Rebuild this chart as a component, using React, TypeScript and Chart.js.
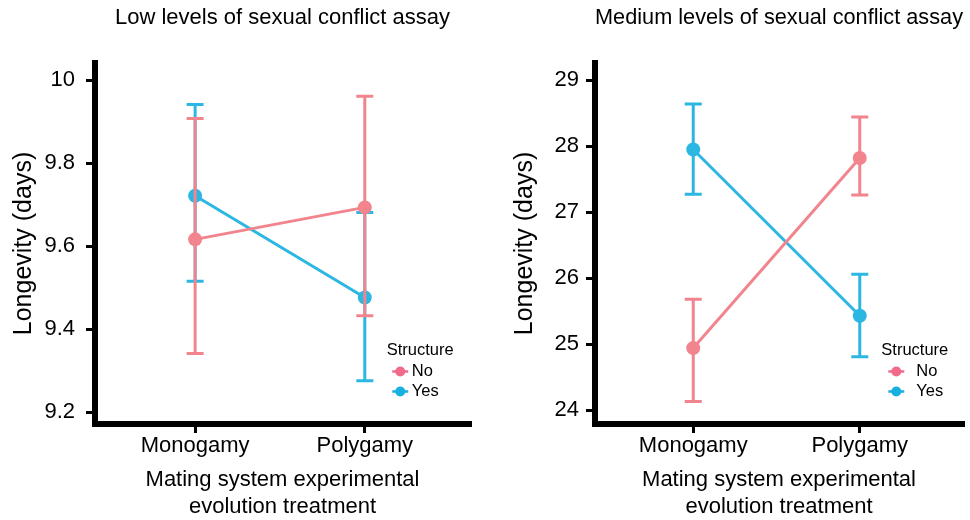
import React, { useEffect, useRef } from "react";
import { Chart, registerables } from "chart.js";

Chart.register(...registerables);

// ---------- data ----------
const categories = ["Monogamy", "Polygamy"];
const groups = ["No", "Yes"];

// Low levels of sexual conflict assay
const lowNoMean = [9.617, 9.694];
const lowNoLower = [9.342, 9.433];
const lowNoUpper = [9.908, 9.962];
const lowYesMean = [9.722, 9.477];
const lowYesLower = [9.516, 9.276];
const lowYesUpper = [9.942, 9.682];
const lowYTicks = [9.2, 9.4, 9.6, 9.8, 10];

// Medium levels of sexual conflict assay
const medNoMean = [24.94, 27.82];
const medNoLower = [24.13, 27.26];
const medNoUpper = [25.68, 28.44];
const medYesMean = [27.95, 25.43];
const medYesLower = [27.27, 24.81];
const medYesUpper = [28.64, 26.06];
const medYTicks = [24, 25, 26, 27, 28, 29];

const yTitle = "Longevity (days)";
const xTitle = ["Mating system experimental", "evolution treatment"];

// ---------- styles ----------
const FONT = "'Liberation Sans', Arial, Helvetica, sans-serif";
const lineColors = ["#F2848E", "#2CB7E2"];
const keyColors = ["#F06A8A", "#18B0DE"];

const errorBarPlugin = {
  id: "errorBars",
  beforeDatasetDraw(chart: any, args: any) {
    const ds = chart.data.datasets[args.index];
    const xs = chart.scales.x;
    const ys = chart.scales.y;
    const ctx = chart.ctx;
    ctx.save();
    ctx.strokeStyle = ds.borderColor;
    ctx.lineWidth = 3;
    ctx.lineCap = "butt";
    ds.data.forEach((pt: any, i: number) => {
      const px = xs.getPixelForValue(pt.x);
      const lo = ys.getPixelForValue(ds.errLow[i]);
      const hi = ys.getPixelForValue(ds.errHigh[i]);
      const cap = 8.5;
      ctx.beginPath();
      ctx.moveTo(px, lo);
      ctx.lineTo(px, hi);
      ctx.moveTo(px - cap, lo);
      ctx.lineTo(px + cap, lo);
      ctx.moveTo(px - cap, hi);
      ctx.lineTo(px + cap, hi);
      ctx.stroke();
    });
    ctx.restore();
  },
};

const legendPlugin = {
  id: "insideLegend",
  afterDraw(chart: any) {
    const o = chart.options.plugins.insideLegend;
    if (!o) return;
    const ca = chart.chartArea;
    const ctx = chart.ctx;
    const x0 = ca.left + o.fx * (ca.right - ca.left);
    const y0 = ca.top + o.fy * (ca.bottom - ca.top);
    ctx.save();
    ctx.fillStyle = "#000";
    ctx.font = `16.5px ${FONT}`;
    ctx.textBaseline = "middle";
    ctx.textAlign = "left";
    ctx.fillText("Structure", x0, y0);
    groups.forEach((g, i) => {
      const yy = y0 + 21.5 + i * 20;
      const cx = x0 + o.keyOffset;
      ctx.strokeStyle = keyColors[i];
      ctx.lineWidth = 2.5;
      ctx.beginPath();
      ctx.moveTo(cx - 8, yy);
      ctx.lineTo(cx + 8, yy);
      ctx.stroke();
      ctx.fillStyle = keyColors[i];
      ctx.beginPath();
      ctx.arc(cx, yy, 5, 0, Math.PI * 2);
      ctx.fill();
      ctx.fillStyle = "#000";
      ctx.fillText(g, x0 + o.textOffset, yy);
    });
    ctx.restore();
  },
};

type PanelProps = {
  title: string;
  noMean: number[];
  noLower: number[];
  noUpper: number[];
  yesMean: number[];
  yesLower: number[];
  yesUpper: number[];
  yTicks: number[];
  yMin: number;
  yMax: number;
  yWidth: number;
  padRight: number;
  yTitlePad: number;
  tickPad: number;
  keyOffset: number;
  textOffset: number;
};

function Panel(p: PanelProps) {
  const ref = useRef<HTMLCanvasElement | null>(null);
  useEffect(() => {
    if (!ref.current) return;
    const toPts = (arr: number[]) => arr.map((v, i) => ({ x: i + 1, y: v }));
    const chart = new Chart(ref.current, {
      type: "line",
      data: {
        datasets: [
          {
            label: groups[0],
            data: toPts(p.noMean),
            errLow: p.noLower,
            errHigh: p.noUpper,
            borderColor: lineColors[0],
            backgroundColor: lineColors[0],
            pointBackgroundColor: lineColors[0],
            borderWidth: 3,
            pointRadius: 7,
            pointBorderWidth: 0,
            pointHoverRadius: 7,
            tension: 0,
          } as any,
          {
            label: groups[1],
            data: toPts(p.yesMean),
            errLow: p.yesLower,
            errHigh: p.yesUpper,
            borderColor: lineColors[1],
            backgroundColor: lineColors[1],
            pointBackgroundColor: lineColors[1],
            borderWidth: 3,
            pointRadius: 7,
            pointBorderWidth: 0,
            pointHoverRadius: 7,
            tension: 0,
          } as any,
        ],
      },
      options: {
        animation: false,
        responsive: false,
        devicePixelRatio: 1,
        events: [],
        layout: { padding: { left: 0, right: p.padRight, top: 0, bottom: 0 } },
        plugins: {
          legend: { display: false },
          tooltip: { enabled: false },
          title: {
            display: true,
            text: p.title,
            fullSize: false,
            color: "#000",
            font: { family: FONT, size: 22, weight: "normal" },
            padding: { top: 4.3, bottom: 32.3 },
          },
          insideLegend: { fx: 0.778, fy: 0.795, keyOffset: p.keyOffset, textOffset: p.textOffset },
        } as any,
        scales: {
          x: {
            type: "linear",
            min: 0.41,
            max: 2.62,
            afterFit: (s: any) => {
              s.height = 96;
            },
            afterBuildTicks: (s: any) => {
              s.ticks = categories.map((_, i) => ({ value: i + 1 }));
            },
            ticks: {
              color: "#000",
              font: { family: FONT, size: 22 },
              padding: 0,
              maxRotation: 0,
              autoSkip: false,
              callback: (v: any) => categories[Math.round(v) - 1] ?? "",
            },
            grid: {
              display: true,
              drawOnChartArea: false,
              drawTicks: true,
              tickLength: 9,
              lineWidth: 3,
              color: "#000",
            },
            border: { display: true, width: 6, color: "#000" },
            title: {
              display: true,
              text: xTitle,
              color: "#000",
              font: { family: FONT, size: 22 },
              padding: { top: 0, bottom: 0 },
            },
          },
          y: {
            type: "linear",
            min: p.yMin,
            max: p.yMax,
            afterFit: (s: any) => {
              s.width = p.yWidth;
            },
            afterBuildTicks: (s: any) => {
              s.ticks = p.yTicks.map((v) => ({ value: v }));
            },
            ticks: {
              color: "#000",
              font: { family: FONT, size: 22 },
              padding: p.tickPad,
              autoSkip: false,
              callback: (v: any) => String(Math.round(v * 10) / 10),
            },
            grid: {
              display: true,
              drawOnChartArea: false,
              drawTicks: true,
              tickLength: 9,
              lineWidth: 3,
              color: "#000",
            },
            border: { display: true, width: 6, color: "#000" },
            title: {
              display: true,
              text: yTitle,
              color: "#000",
              font: { family: FONT, size: 25 },
              padding: { top: p.yTitlePad, bottom: 0 },
            },
          },
        },
      } as any,
      plugins: [errorBarPlugin, legendPlugin],
    });
    return () => chart.destroy();
  }, []);
  return <canvas ref={ref} width={485} height={520} style={{ display: "block", width: 485, height: 520 }} />;
}

export default function App() {
  return (
    <div style={{ position: "absolute", left: 0, top: 0, width: 970, height: 520, display: "flex", background: "#fff" }}>
      <Panel
        title="Low levels of sexual conflict assay"
        noMean={lowNoMean}
        noLower={lowNoLower}
        noUpper={lowNoUpper}
        yesMean={lowYesMean}
        yesLower={lowYesLower}
        yesUpper={lowYesUpper}
        yTicks={lowYTicks}
        yMin={9.172}
        yMax={10.042}
        yWidth={95}
        padRight={15}
        yTitlePad={9}
        tickPad={11}
        keyOffset={13.5}
        textOffset={25}
      />
      <Panel
        title="Medium levels of sexual conflict assay"
        noMean={medNoMean}
        noLower={medNoLower}
        noUpper={medNoUpper}
        yesMean={medYesMean}
        yesLower={medYesLower}
        yesUpper={medYesUpper}
        yTicks={medYTicks}
        yMin={23.79}
        yMax={29.26}
        yWidth={110}
        padRight={0}
        yTitlePad={25}
        tickPad={7}
        keyOffset={15}
        textOffset={35}
      />
    </div>
  );
}
